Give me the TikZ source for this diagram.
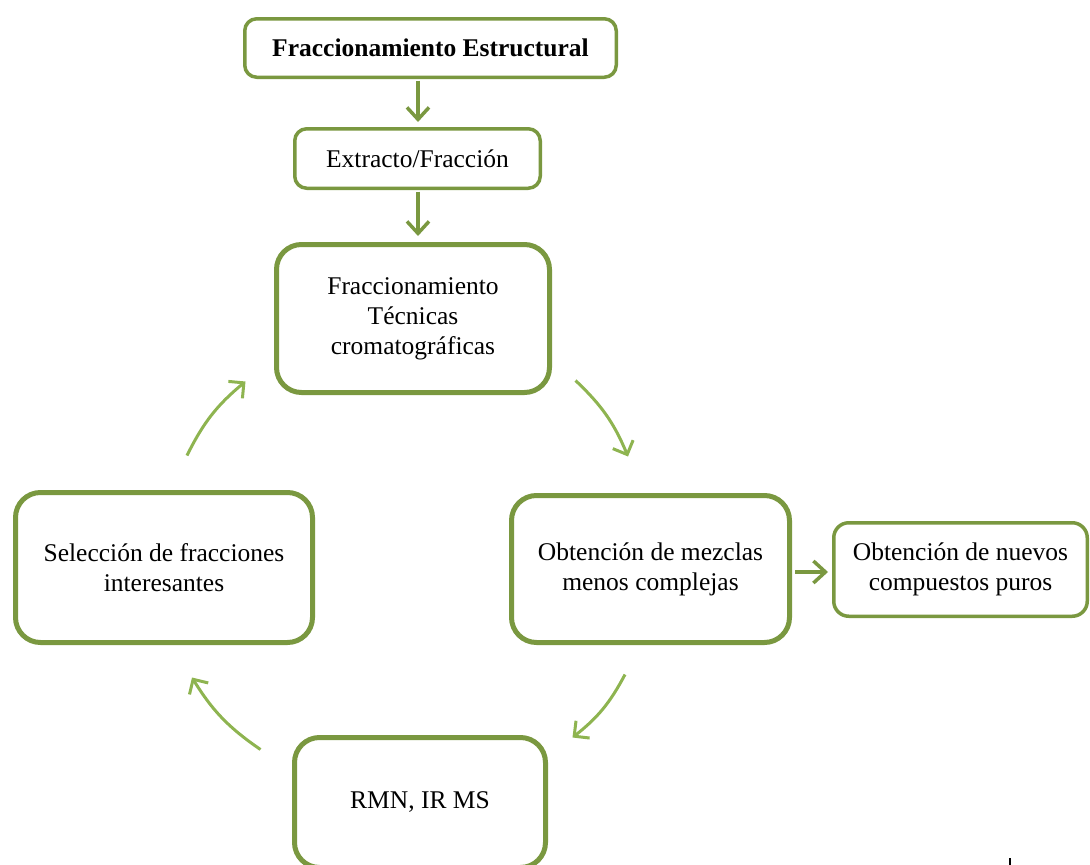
\documentclass[tikz,border=0pt]{standalone}
\usepackage{fontspec}
\setmainfont{Liberation Serif}
\usetikzlibrary{arrows.meta,calc}
\definecolor{boxgreen}{RGB}{122,152,64}
\definecolor{cyclegreen}{RGB}{142,180,80}
\begin{document}
\begin{tikzpicture}[x=1pt,y=-1pt,
  font=\fontsize{25.5}{30}\selectfont,
  box/.style={draw=boxgreen, rectangle, align=center, inner sep=0pt, fill=white},
  slimbox/.style={box, line width=3.5pt, rounded corners=12pt},
  widebox/.style={box, line width=5pt, rounded corners=25pt},
  flow/.style={draw=boxgreen, line width=3.5pt, -{Straight Barb[length=12pt,width=22pt]}},
  cyc/.style={draw=cyclegreen, line width=3pt, -{Straight Barb[length=11pt,width=22pt]}},
]
\useasboundingbox (0,0) rectangle (1090,865);

% boxes
\node[slimbox, minimum width=371.5pt, minimum height=58.5pt] (b1) at (430.5,48)
  {\textbf{Fraccionamiento Estructural}};
\node[slimbox, minimum width=245.5pt, minimum height=59.5pt] (b2) at (417.5,158.5)
  {Extracto/Fracción};
\node[widebox, minimum width=273pt, minimum height=148pt] (b3) at (413,318.5)
  {Fraccionamiento\\Técnicas\\cromatográficas};
\node[widebox, minimum width=278pt, minimum height=147pt] (b4) at (650.5,569)
  {Obtención de mezclas\\menos complejas};
\node[slimbox, rounded corners=15pt, minimum width=253.5pt, minimum height=93.5pt] (b5) at (960.5,569.5)
  {Obtención de nuevos\\compuestos puros};
\node[widebox, minimum width=297pt, minimum height=150pt] (b6) at (164,567.5)
  {Selección de fracciones\\interesantes};
\node[widebox, minimum width=251pt, minimum height=130pt] (b7) at (420,802.5)
  {RMN, IR MS};

% straight connectors
\draw[flow] ($(b1.south)+(-12.5,1.5)$) -- ($(b2.north)+(0.5,-5)$);
\draw[flow] ($(b2.south)+(0.5,1.5)$) -- ($(b3.north)+(5,-6)$);
\draw[flow] ($(b4.east)+(3,3)$) -- ($(b5.west)+(-4,2.5)$);

% cycle connectors
\draw[cyc] ($(b3.south east)+(23.5,-14.5)$) to[bend left=12] ($(b4.north)+(-22.5,-36.5)$);
\draw[cyc] ($(b4.south)+(-25.5,29.5)$) to[bend left=12] ($(b7.north east)+(24.5,2.5)$);
\draw[cyc] ($(b7.north west)+(-31.5,14.5)$) to[bend left=12] ($(b6.south)+(28,32.5)$);
\draw[cyc] ($(b6.north)+(23,-34.5)$) to[bend left=12] ($(b3.south west)+(-28.5,-13.5)$);

% small stray mark at the lower right
\draw[black, line width=1.5pt] (1010,858) -- (1010,866);
\end{tikzpicture}
\end{document}
